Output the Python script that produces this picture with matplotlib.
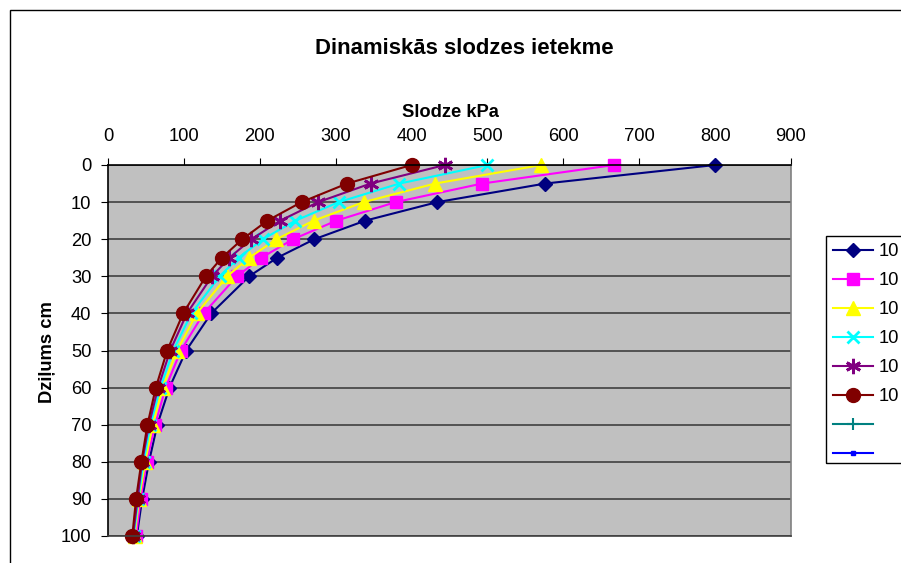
import matplotlib.pyplot as plt
from matplotlib.lines import Line2D
from matplotlib.patches import Rectangle

plt.rcParams["font.family"] = ["Liberation Sans", "DejaVu Sans"]

W, H = 901, 563

# depth below surface, cm
depth = [0, 5, 10, 15, 20, 25, 30, 40, 50, 60, 70, 80, 90, 100]

# load in kPa for each series
load_1 = [800, 576, 434, 339, 272, 223, 186, 136, 103, 81, 65, 54, 45, 38]
load_2 = [667, 493, 379, 301, 244, 202, 170, 126, 96, 76, 62, 51, 43, 37]
load_3 = [571, 431, 337, 271, 222, 186, 157, 117, 91, 72, 59, 49, 41, 35]
load_4 = [500, 384, 304, 247, 204, 172, 147, 110, 86, 69, 56, 47, 40, 34]
load_5 = [444, 346, 277, 227, 189, 160, 137, 104, 82, 66, 54, 45, 39, 33]
load_6 = [400, 315, 255, 210, 177, 150, 129, 99, 78, 63, 52, 44, 37, 32]

series_labels = ["10", "10", "10", "10", "10", "10"]
x_ticks = [0, 100, 200, 300, 400, 500, 600, 700, 800, 900]
y_ticks = [0, 10, 20, 30, 40, 50, 60, 70, 80, 90, 100]

styles = [
    dict(color="#000080", marker="D", ms=7),
    dict(color="#FF00FF", marker="s", ms=9),
    dict(color="#FFFF00", marker="^", ms=10),
    dict(color="#00FFFF", marker="x", ms=9, mew=2),
    dict(color="#800080", marker=(6, 2, 0), ms=11, mew=2),
    dict(color="#800000", marker="o", ms=10),
]

FS = 13.2

fig = plt.figure(figsize=(W / 100, H / 100), dpi=100)
ax = fig.add_axes([108 / W, 1 - 536 / H, (791 - 108) / W, (536 - 165) / H])
ax.set_facecolor("#C0C0C0")

all_loads = [load_1, load_2, load_3, load_4, load_5, load_6]
handles = []
for loads, st, lab in zip(all_loads, styles, series_labels):
    line, = ax.plot(loads, depth, linewidth=1.5, label=lab, clip_on=False, **st)
    handles.append(line)

# two empty series that only show in the legend
handles.append(Line2D([], [], color="#008080", marker="+", ms=9, mew=1.5, linewidth=1.5, label=" "))
handles.append(Line2D([], [], color="#0000FF", marker="s", ms=3, linewidth=1.5, label=" "))

ax.set_xlim(0, 900)
ax.set_ylim(100, 0)
ax.set_xticks(x_ticks)
ax.set_yticks(y_ticks)
ax.xaxis.tick_top()
ax.tick_params(axis="x", direction="out", length=5, pad=9.5, labelsize=FS)
ax.tick_params(axis="y", direction="out", length=5, pad=7, labelsize=FS)
ax.grid(axis="y", color="#404040", linewidth=1.2)
ax.set_axisbelow(True)
ax.spines["left"].set_color("black")
ax.spines["top"].set_color("black")
ax.spines["right"].set_color("#808080")
ax.spines["bottom"].set_color("#404040")
for sp in ax.spines.values():
    sp.set_linewidth(1.2)

fig.text(464 / W, 1 - 54.5 / H, "Dinamiskās slodzes ietekme", ha="center", va="baseline",
         fontsize=15.9, fontweight="bold")
fig.text(450 / W, 1 - 117 / H, "Slodze kPa", ha="center", va="baseline",
         fontsize=FS, fontweight="bold")
fig.text(52 / W, 1 - 352.5 / H, "Dziļums cm", ha="center", va="baseline", rotation=90,
         rotation_mode="anchor", fontsize=FS, fontweight="bold")

leg = fig.legend(handles=handles, loc="upper left", bbox_to_anchor=(826 / W, 1 - 236 / H),
                 borderaxespad=0, frameon=False, fontsize=FS,
                 handlelength=2.2, labelspacing=0.655, handletextpad=0.27, borderpad=0.38)

# legend frame runs past the right image edge, as in the reference
fig.patches.append(Rectangle((826 / W, 1 - 463 / H), 0.2, (463 - 236) / H, transform=fig.transFigure,
                             fill=False, edgecolor="black", linewidth=1))

# outer chart border, cut by the right and bottom image edges
fig.patches.append(Rectangle((10 / W, -0.1), 1.2, 1.1 - 10 / H, transform=fig.transFigure,
                             fill=False, edgecolor="black", linewidth=1))

fig.savefig("out.png", dpi=100)
